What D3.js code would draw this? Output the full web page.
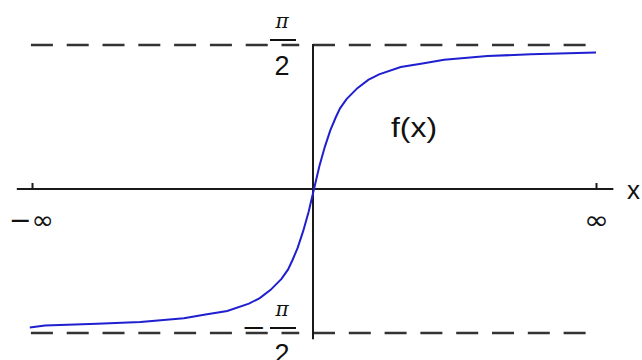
<!DOCTYPE html>
<html>
<head>
<meta charset="utf-8">
<script src="https://cdn.jsdelivr.net/npm/d3@7"></script>
<style>
  html, body { margin: 0; padding: 0; background: #fff; }
  svg { display: block; }
</style>
</head>
<body>
<svg id="chart" width="642" height="360"></svg>
<script>
// f(x) = arctan-shaped curve with horizontal asymptotes at ±π/2
const xTickValues = [-13, 13];
const xTickLabels = ["\u2212\u221E", "\u221E"];
const asymptotes = [Math.PI / 2, -Math.PI / 2];
const curveX = [-13.1, -12.4, -10, -8, -6, -5, -4, -3, -2.5, -2, -1.5, -1.2, -1, -0.75, -0.5, -0.25, 0,
                0.25, 0.5, 0.75, 1, 1.2, 1.5, 2, 2.5, 3, 4, 5, 6, 8, 10, 13];
const curveY = [-1.51, -1.49, -1.47, -1.45, -1.41, -1.37, -1.33, -1.25, -1.19, -1.10, -0.98, -0.88, -0.78, -0.64, -0.46, -0.25, 0,
                0.25, 0.46, 0.64, 0.78, 0.88, 0.98, 1.10, 1.19, 1.25, 1.33, 1.37, 1.41, 1.45, 1.47, 1.49];
const curveLabel = "f(x)";
const axisLabel = "x";

const svg = d3.select("#chart");
const x = d3.scaleLinear().domain([-13, 13]).range([32, 596]);
const y = d3.scaleLinear().domain([-Math.PI / 2, Math.PI / 2]).range([333, 45]);

// dashed asymptote lines: one run left of the y axis, one starting at it
const dashG = svg.append("g")
  .attr("stroke", "#333").attr("stroke-width", 2.6)
  .attr("stroke-dasharray", "22,13.8").attr("fill", "none");
asymptotes.forEach(v => {
  dashG.append("line")
    .attr("x1", x(-13.05)).attr("x2", x(-0.68))
    .attr("y1", y(v)).attr("y2", y(v));
  dashG.append("line")
    .attr("x1", x(0) - 1).attr("x2", x(13))
    .attr("y1", y(v)).attr("y2", y(v));
});

// x axis
svg.append("line")
  .attr("x1", x(-13.7)).attr("x2", x(13.8))
  .attr("y1", y(0)).attr("y2", y(0))
  .attr("stroke", "#1a1a1a").attr("stroke-width", 2);

const xAxis = d3.axisBottom(x)
  .tickValues(xTickValues)
  .tickSizeInner(-6).tickSizeOuter(0)
  .tickFormat((d, i) => xTickLabels[i]);
const gx = svg.append("g").attr("transform", `translate(0,${y(0)})`).call(xAxis);
gx.select(".domain").remove();
gx.selectAll(".tick line").attr("stroke", "#1a1a1a").attr("stroke-width", 2);
gx.selectAll(".tick text")
  .attr("font-family", "DejaVu Sans").attr("font-size", 26)
  .attr("fill", "#111")
  .attr("dy", null).attr("y", 40)
  .attr("textLength", (d, i) => i === 0 ? 45 : 25)
  .attr("lengthAdjust", "spacingAndGlyphs")
  .attr("x", (d, i) => i === 0 ? -1 : 0);

// y axis
svg.append("line")
  .attr("x1", x(0) - 1).attr("x2", x(0) - 1)
  .attr("y1", y(Math.PI / 2) - 1).attr("y2", y(-1.64))
  .attr("stroke", "#1a1a1a").attr("stroke-width", 2);

// ±π/2 labels, written as stacked fractions
function fracLabel(v, sign) {
  const cy = y(v) - 5;
  const cx = 282;
  const g = svg.append("g").attr("fill", "#111");
  g.append("text").text("\u03C0")
    .attr("x", cx).attr("y", cy - 12)
    .attr("text-anchor", "middle")
    .attr("font-family", "DejaVu Serif").attr("font-style", "italic")
    .attr("font-size", 20);
  g.append("line")
    .attr("x1", cx - 12).attr("x2", cx + 14)
    .attr("y1", cy).attr("y2", cy)
    .attr("stroke", "#111").attr("stroke-width", 2);
  g.append("text").text("2")
    .attr("x", cx).attr("y", cy + 35)
    .attr("text-anchor", "middle")
    .attr("font-family", "Liberation Sans").attr("font-size", 27);
  if (sign) {
    g.append("text").text("\u2212")
      .attr("x", 243).attr("y", cy + 9)
      .attr("textLength", 22).attr("lengthAdjust", "spacingAndGlyphs")
      .attr("font-family", "Liberation Sans").attr("font-size", 27);
  }
}
fracLabel(Math.PI / 2, false);
fracLabel(-Math.PI / 2, true);

// curve
const pts = curveX.map((d, i) => [d, curveY[i]]);
svg.append("path")
  .datum(pts)
  .attr("d", d3.line().x(d => x(d[0])).y(d => y(d[1])))
  .attr("fill", "none")
  .attr("stroke", "#1f1fd0").attr("stroke-width", 2);

// labels
svg.append("text").text(curveLabel)
  .attr("x", 391).attr("y", 137)
  .attr("textLength", 46).attr("lengthAdjust", "spacingAndGlyphs")
  .attr("font-family", "Liberation Sans").attr("font-size", 27)
  .attr("fill", "#111");
svg.append("text").text(axisLabel)
  .attr("x", 627).attr("y", 199)
  .attr("font-family", "Liberation Sans").attr("font-size", 26)
  .attr("fill", "#111");
</script>
</body>
</html>
